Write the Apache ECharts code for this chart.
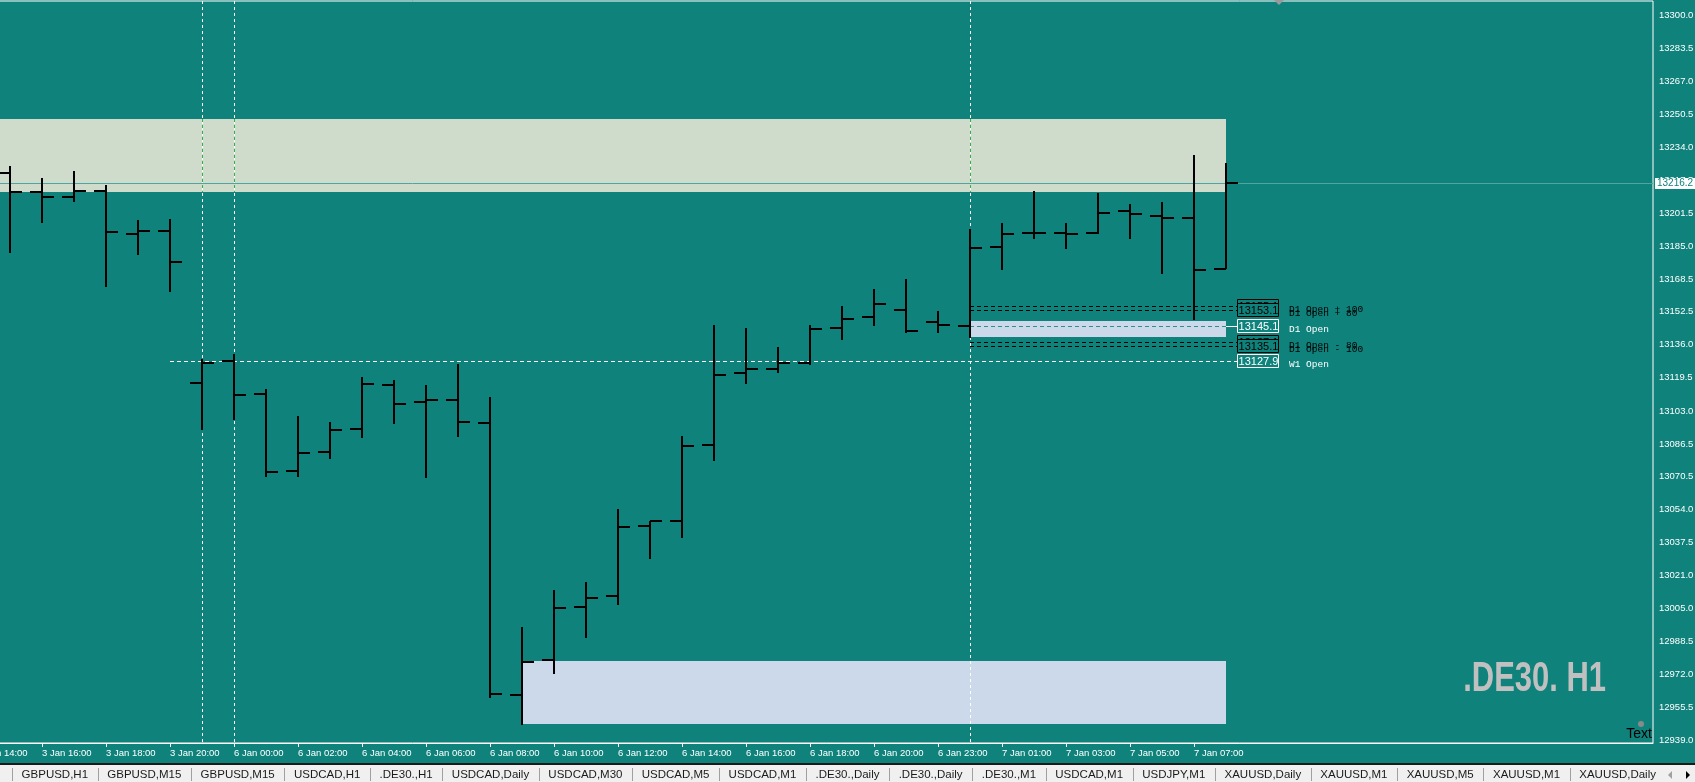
<!DOCTYPE html>
<html><head><meta charset="utf-8">
<script src="https://cdn.jsdelivr.net/npm/echarts@6/dist/echarts.min.js"></script>
<style>html,body{margin:0;padding:0;background:#10827c;overflow:hidden}#c{width:1695px;height:782px}</style>
</head><body><div id="c"></div><script>
// ---- data ----
const times = ['3 Jan 14:00','3 Jan 15:00','3 Jan 16:00','3 Jan 17:00','3 Jan 18:00','3 Jan 19:00','3 Jan 20:00','3 Jan 21:00',
 '6 Jan 00:00','6 Jan 01:00','6 Jan 02:00','6 Jan 03:00','6 Jan 04:00','6 Jan 05:00','6 Jan 06:00','6 Jan 07:00','6 Jan 08:00',
 '6 Jan 09:00','6 Jan 10:00','6 Jan 11:00','6 Jan 12:00','6 Jan 13:00','6 Jan 14:00','6 Jan 15:00','6 Jan 16:00','6 Jan 17:00',
 '6 Jan 18:00','6 Jan 19:00','6 Jan 20:00','6 Jan 21:00','6 Jan 23:00',
 '7 Jan 00:00','7 Jan 01:00','7 Jan 02:00','7 Jan 03:00','7 Jan 04:00','7 Jan 05:00','7 Jan 06:00','7 Jan 07:00','7 Jan 08:00'];
const opens  = [null,13221.5,13212.1,13209.6,13212.6,13191.2,13192.7,13117.1,13128.0,13111.5,13073.3,13082.8,13094.1,13115.9,13107.5,13108.5,13097.0,12961.9,12979.3,13005.5,13011.1,13045.8,13048.4,13086.2,13122.1,13123.9,13127.0,13144.4,13149.9,13153.3,13147.4,13145.1,13184.7,13191.7,13191.7,13191.7,13202.7,13200.2,13199.2,13173.8];
const highs  = [null,13224.9,13218.9,13222.4,13215.4,13198.0,13198.5,13128.7,13131.4,13113.8,13100.5,13097.5,13119.9,13118.4,13115.9,13126.4,13110.0,12995.6,13014.0,13018.0,13054.3,13048.4,13090.6,13145.8,13144.3,13134.8,13145.8,13155.2,13163.7,13168.7,13152.8,13193.5,13196.5,13212.5,13196.5,13211.5,13206.0,13207.0,13230.4,13226.4];
const lows   = [null,13181.8,13196.7,13207.1,13164.8,13180.8,13162.4,13093.7,13098.7,13070.3,13070.3,13079.3,13089.7,13096.7,13069.8,13090.2,12960.4,12947.0,12972.3,12990.2,13006.6,13029.5,13040.0,13078.1,13116.6,13121.9,13126.0,13138.3,13145.3,13141.6,13142.0,13139.5,13173.3,13188.7,13183.7,13191.2,13188.7,13171.3,13148.4,13173.8];
const closes = [null,13212.1,13209.6,13212.6,13192.2,13192.7,13177.3,13127.0,13111.1,13072.7,13082.3,13093.6,13116.4,13106.5,13108.5,13097.5,12962.4,12978.2,13005.0,13010.0,13045.3,13048.4,13085.6,13120.9,13123.9,13127.0,13144.0,13148.9,13156.2,13143.0,13145.9,13184.2,13191.2,13191.7,13191.2,13201.7,13201.2,13199.2,13173.3,13216.2];
const xLabelIdx = [0,2,4,6,8,10,12,14,16,18,20,22,24,26,28,30,32,34,36,38];
const yTicks = [13300.0,13283.5,13267.0,13250.5,13234.0,13217.5,13201.5,13185.0,13168.5,13152.5,13136.0,13119.5,13103.0,13086.5,13070.5,13054.0,13037.5,13021.0,13005.0,12988.5,12972.0,12955.5,12939.0];
const zoneStart = [0,17,31];
const zoneEnd   = [39,39,39];
const zoneHigh  = [13248.3,12978.6,13147.8];
const zoneLow   = [13212.1,12947.5,13140.0];
const separators = [7,8,31];
const levelNames  = ['D1 Open + 100','D1 Open + 80','D1 Open','D1 Open - 80','D1 Open - 100','W1 Open'];
const levelValues = [13155.1,13153.1,13145.1,13137.1,13135.1,13127.9];
const levelStart  = [31,31,31,31,31,6];
const tabNames = ['GBPUSD,H1','GBPUSD,M15','GBPUSD,M15','USDCAD,H1','.DE30.,H1','USDCAD,Daily','USDCAD,M30','USDCAD,M5','USDCAD,M1','.DE30.,Daily','.DE30.,Daily','.DE30.,M1','USDCAD,M1','USDJPY,M1','XAUUSD,Daily','XAUUSD,M1','XAUUSD,M5','XAUUSD,M1','XAUUSD,Daily'];
const chartTitle = '.DE30. H1';

// ---- styles ----
const BG = '#10827c';
const zoneColors = ['#d0dccb','#cbd9ea','#cbd9ea'];
const lastIdx = times.length - 1;

const ohlcData = [];
times.forEach((t,i)=>{ if(opens[i]!=null) ohlcData.push([i,opens[i],highs[i],lows[i],closes[i]]); });
const zoneData = zoneStart.map((s,i)=>[s,zoneEnd[i],zoneHigh[i],zoneLow[i]]);
const levelData = levelValues.map((v,i)=>[levelStart[i], v]);
const sepData = separators.map(i=>[i, 13000]);

const chart = echarts.init(document.getElementById('c'), null, {renderer:'canvas'});

// tabs
const meas = document.createElement('canvas').getContext('2d');
const tabFont = '11.5px "Liberation Sans", Arial, sans-serif';
meas.font = tabFont;
const graphics = [
  {type:'rect', shape:{x:0,y:763,width:1695,height:2}, style:{fill:'#1a1a1a'}, z:100},
  {type:'rect', shape:{x:0,y:765,width:1695,height:17}, style:{fill:'#f0f0f0'}, z:100}
];
let tx = 12;
tabNames.forEach(n=>{
  const w = meas.measureText(n).width + 19.2;
  graphics.push({type:'line', shape:{x1:Math.round(tx)+0.5,y1:768,x2:Math.round(tx)+0.5,y2:781}, style:{stroke:'#a0a0a0',lineWidth:1}, z:101});
  graphics.push({type:'text', x:tx+w/2, y:775, style:{text:n, font:tabFont, fill:'#1a1a1a', align:'center', verticalAlign:'middle'}, z:101});
  tx += w;
});
graphics.push({type:'rect', shape:{x:1662,y:765,width:33,height:17}, style:{fill:'#f0f0f0'}, z:102});
graphics.push({type:'polygon', shape:{points:[[1672,771],[1672,779],[1668,775]]}, style:{fill:'#a0a0a0'}, z:103});
graphics.push({type:'polygon', shape:{points:[[1686,771],[1686,779],[1690,775]]}, style:{fill:'#000'}, z:103});
// title
graphics.push({type:'text', x:1606, y:679, scaleX:0.72, style:{text:chartTitle, font:'bold 43px "Liberation Sans", Arial, sans-serif', fill:'#c0c0c0', align:'right', verticalAlign:'middle', shadowColor:'#3fb0c0', shadowOffsetX:-1, shadowOffsetY:0, shadowBlur:0}, z:50});
// "Text" object
graphics.push({type:'circle', shape:{cx:1641,cy:724,r:3}, style:{fill:'#8a8a8a'}, z:50});
graphics.push({type:'text', x:1652, y:741, style:{text:'Text', font:'14px "Liberation Sans", Arial, sans-serif', fill:'#000', align:'right', verticalAlign:'bottom'}, z:50});
// chart shift marker
graphics.push({type:'polygon', shape:{points:[[1274,0],[1284,0],[1279,5]]}, style:{fill:'#9a9a9a'}, z:50});

const option = {
  animation:false,
  backgroundColor:BG,
  grid:{left:-32,right:42,top:1,bottom:39,show:true,borderColor:'#ffffff',borderWidth:1,backgroundColor:'transparent',containLabel:false,outerBoundsMode:'none'},
  xAxis:{type:'value',min:-0.3125,max:52.34375,
    axisLine:{show:true,lineStyle:{color:'#fff',width:1}},
    splitLine:{show:false},
    axisTick:{show:true,customValues:xLabelIdx,length:4,lineStyle:{color:'#fff'}},
    axisLabel:{customValues:xLabelIdx,formatter:v=>times[v]||'',color:'#fff',fontSize:9.5,fontFamily:'"Liberation Sans", Arial, sans-serif',align:'left',margin:5,hideOverlap:false}},
  yAxis:{type:'value',position:'right',min:12937.85,max:13306.96,
    axisLine:{show:true,lineStyle:{color:'#fff',width:1}},
    splitLine:{show:false},
    axisTick:{show:true,customValues:yTicks,length:3,lineStyle:{color:'#fff'}},
    axisLabel:{customValues:yTicks,formatter:v=>v.toFixed(1),color:'#fff',fontSize:9.5,fontFamily:'"Liberation Sans", Arial, sans-serif',margin:6}},
  graphic:{elements:graphics},
  series:[
    {type:'custom',name:'zones',z:1,silent:true,data:zoneData,encode:{x:[0,1],y:[2,3]},
     renderItem:(params,api)=>{
       const p1=api.coord([api.value(0),api.value(2)]), p2=api.coord([api.value(1),api.value(3)]);
       return {type:'rect',shape:{x:Math.round(p1[0]),y:Math.round(p1[1]),width:Math.round(p2[0])-Math.round(p1[0]),height:Math.round(p2[1])-Math.round(p1[1])},style:{fill:zoneColors[params.dataIndex]}};
     }},
    {type:'custom',name:'separators',z:2,silent:true,data:sepData,encode:{x:0,y:1},
     renderItem:(params,api)=>{
       const cs=params.coordSys;
       const x=Math.round(api.coord([api.value(0),13000])[0])+0.5;
       const yh=api.coord([0,zoneHigh[0]])[1], yl=api.coord([0,zoneLow[0]])[1];
       return {type:'group',children:[
         {type:'line',shape:{x1:x,y1:cs.y,x2:x,y2:cs.y+cs.height},style:{stroke:'#ffffff',lineWidth:1,lineDash:[3,3]}},
         {type:'line',shape:{x1:x,y1:Math.round(yh),x2:x,y2:Math.round(yl)},style:{stroke:'#2db34a',lineWidth:1,lineDash:[3,3]}}
       ]};
     }},
    {type:'custom',name:'levels',z:3,silent:true,data:levelData,encode:{x:0,y:1},
     renderItem:(params,api)=>{
       const idx=params.dataIndex, name=levelNames[idx];
       const s=api.value(0), v=api.value(1);
       const key=(name==='D1 Open'||name==='W1 Open');
       const col=key?'#ffffff':'#000000';
       const p0=api.coord([s,v]), pe=api.coord([lastIdx,v]);
       const cy=Math.round(p0[1]);
       const y=cy+0.5;
       const ex=Math.round(pe[0]);
       const bx=ex+11;
       const ch=[];
       if(name==='D1 Open'){
         ch.push({type:'line',shape:{x1:p0[0],y1:y,x2:ex,y2:y},style:{stroke:'#2f8f8a',lineWidth:1,lineDash:[4,3]}});
         ch.push({type:'line',shape:{x1:ex,y1:y,x2:bx,y2:y},style:{stroke:'#ffffff',lineWidth:1}});
       } else {
         ch.push({type:'line',shape:{x1:p0[0],y1:y,x2:bx,y2:y},style:{stroke:col,lineWidth:1,lineDash:[4,3]}});
       }
       ch.push({type:'rect',shape:{x:bx+0.5,y:cy-6.5,width:41,height:13},style:{fill:BG,stroke:col,lineWidth:1}});
       ch.push({type:'text',x:bx+21.5,y:cy+1,style:{text:v.toFixed(1),font:'11px "Liberation Sans", Arial, sans-serif',fill:col,align:'center',verticalAlign:'middle'}});
       ch.push({type:'text',x:bx+52,y:cy+3,style:{text:name,font:'9.5px "Liberation Mono", "DejaVu Sans Mono", monospace',fill:col,align:'left',verticalAlign:'middle'}});
       return {type:'group',children:ch};
     }},
    {type:'custom',name:'ohlc',z:5,silent:true,data:ohlcData,encode:{x:0,y:[1,2,3,4]},
     renderItem:(params,api)=>{
       const i=api.value(0);
       const po=api.coord([i,api.value(1)]), ph=api.coord([i,api.value(2)]), pl=api.coord([i,api.value(3)]), pc=api.coord([i,api.value(4)]);
       const x=Math.round(po[0]);
       const yo=Math.round(po[1]), yh=Math.round(ph[1]), yl=Math.round(pl[1]), yc=Math.round(pc[1]);
       const st={stroke:'#000',lineWidth:2};
       return {type:'group',children:[
         {type:'line',shape:{x1:x,y1:yh,x2:x,y2:yl},style:st},
         {type:'line',shape:{x1:x-12,y1:yo,x2:x,y2:yo},style:st},
         {type:'line',shape:{x1:x,y1:yc,x2:x+12,y2:yc},style:st}
       ]};
     },
     markLine:{silent:true,symbol:'none',animation:false,
       data:[{yAxis:closes[lastIdx]}],
       lineStyle:{color:'#4fa6a1',type:'solid',width:1},
       label:{show:true,position:'end',distance:2,formatter:p=>Number(p.value).toFixed(1),color:'#10827c',backgroundColor:'#ffffff',padding:[1,3,0,2],fontSize:10,fontFamily:'"Liberation Sans", Arial, sans-serif'}}}
  ]
};
chart.setOption(option);
</script></body></html>
